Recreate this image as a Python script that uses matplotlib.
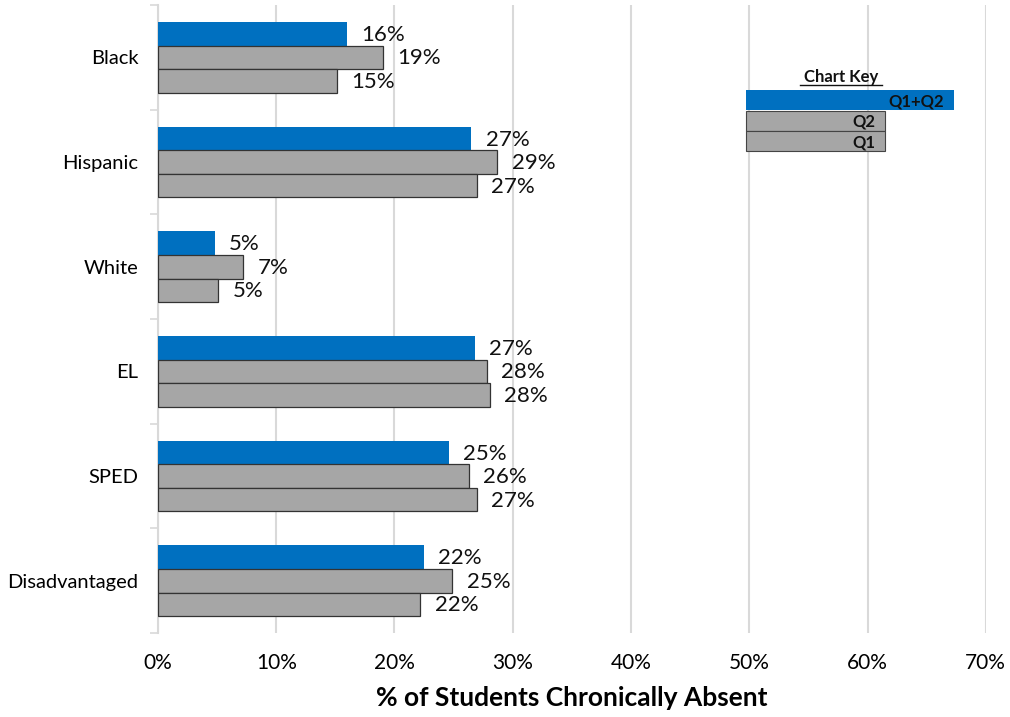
import matplotlib.pyplot as plt
import numpy as np
from matplotlib.ticker import FixedLocator, PercentFormatter

plt.rcParams['font.family'] = ['Lato', 'DejaVu Sans']

# data (percent chronically absent)
groups = ['Black', 'Hispanic', 'White', 'EL', 'SPED', 'Disadvantaged']
q1q2 = [16.0, 26.5, 4.8, 26.8, 24.6, 22.5]
q2 = [19.0, 28.7, 7.2, 27.8, 26.3, 24.9]
q1 = [15.1, 27.0, 5.1, 28.1, 27.0, 22.2]
labels_q1q2 = ['16%', '27%', '5%', '27%', '25%', '22%']
labels_q2 = ['19%', '29%', '7%', '28%', '26%', '25%']
labels_q1 = ['15%', '27%', '5%', '28%', '27%', '22%']

key_labels = ['Q1+Q2', 'Q2', 'Q1']
key_lengths = [17.6, 11.8, 11.8]

blue = '#0070C0'
grey = '#A6A6A6'
grid_col = '#D9D9D9'

fig = plt.figure(figsize=(10.1, 7.17), dpi=100)
ax = fig.add_axes([0.1564, 0.117, 0.8196, 0.876])

y = np.arange(len(groups))
h = 0.225
series = [
    (q1q2, labels_q1q2, -h, blue, 'none'),
    (q2, labels_q2, 0, grey, '#333333'),
    (q1, labels_q1, h, grey, '#333333'),
]
for vals, labs, off, col, ec in series:
    bars = ax.barh(y + off, vals, height=h, color=col, edgecolor=ec,
                   linewidth=0.9, zorder=3)
    for b, lab in zip(bars, labs):
        ax.text(b.get_width() + 1.2, b.get_y() + b.get_height() / 2 + 0.01, lab,
                ha='left', va='center', fontsize=16, color='#111111', zorder=4)

# chart key drawn as a small bar set inside the plot
key_y = [0.41, 0.605, 0.80]
key_cols = [blue, grey, grey]
key_ec = ['none', '#444444', '#444444']
key_left = 49.7
for ky, kl, kc, ke, klab in zip(key_y, key_lengths, key_cols, key_ec, key_labels):
    ax.barh(ky, kl, left=key_left, height=0.19, color=kc, edgecolor=ke,
            linewidth=0.8, zorder=5)
    ax.text(key_left + kl - 0.8, ky + 0.01, klab, ha='right', va='center',
            fontsize=12, fontweight='bold', color='#111111', zorder=6)
ax.text(57.8, 0.19, 'Chart Key', ha='center', va='center', fontsize=12,
        fontweight='bold', color='#111111', zorder=6)
ax.plot([54.3, 61.2], [0.265, 0.265], color='#111111', lw=1.0, zorder=6)

ax.set_xlim(0, 70)
ax.set_ylim(len(groups) - 0.5, -0.5)
ax.set_xticks(np.arange(0, 71, 10))
ax.xaxis.set_major_formatter(PercentFormatter(decimals=0))
ax.set_yticks(y)
ax.set_yticklabels(groups)
ax.yaxis.set_minor_locator(FixedLocator(np.arange(-0.5, len(groups), 1)))
ax.tick_params(axis='y', which='major', length=0, pad=14, labelsize=14.5)
ax.tick_params(axis='y', which='minor', length=6, color=grid_col, width=1.2)
ax.tick_params(axis='x', length=0, pad=14, labelsize=15)

ax.grid(axis='x', color=grid_col, linewidth=1.5, zorder=0)
for s in ['top', 'right', 'bottom']:
    ax.spines[s].set_visible(False)
ax.spines['left'].set_color(grid_col)
ax.spines['left'].set_linewidth(1.5)

ax.set_xlabel('% of Students Chronically Absent', fontsize=19,
              fontweight='bold', labelpad=10)

fig.savefig('out.png', dpi=100)
